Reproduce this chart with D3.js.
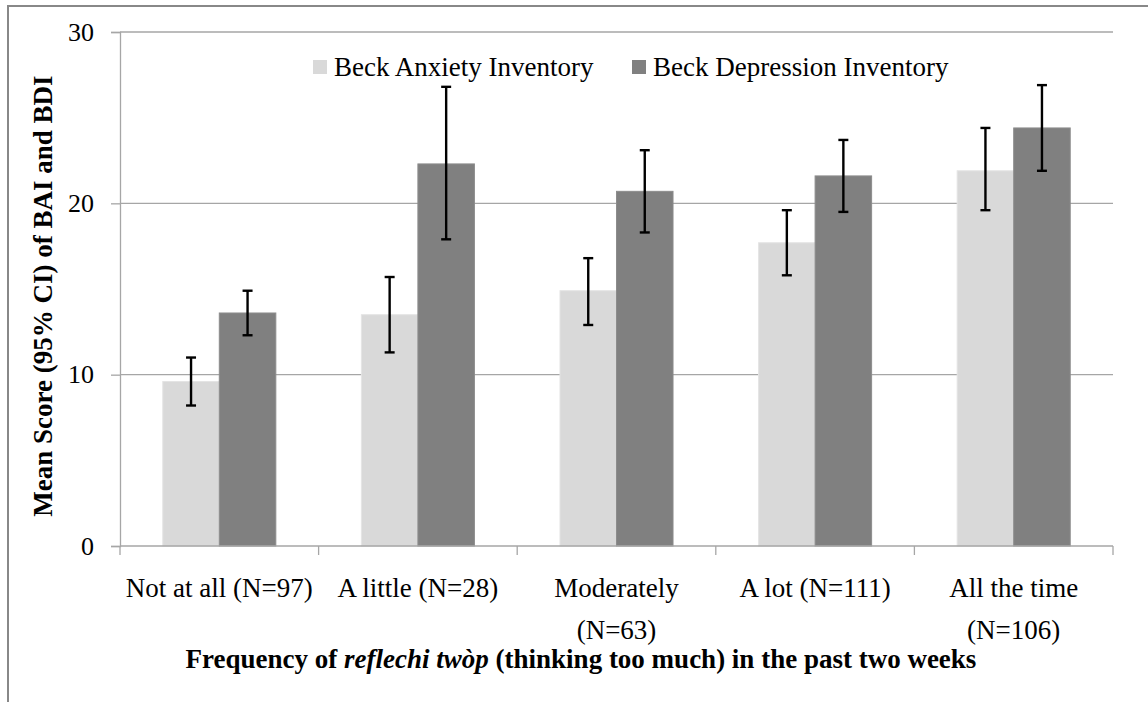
<!DOCTYPE html>
<html>
<head>
<meta charset="utf-8">
<script src="https://cdnjs.cloudflare.com/ajax/libs/d3/7.8.5/d3.min.js"></script>
<style>
  body { margin: 0; background: #fff; }
  svg { display: block; }
  text { font-family: "Liberation Serif", "Times New Roman", serif; fill: #000; }
</style>
</head>
<body>
<div id="chart"></div>
<script>
// data
var categories = ["Not at all (N=97)", "A little (N=28)", "Moderately (N=63)", "A lot (N=111)", "All the time (N=106)"];
var categoryLines = [["Not at all (N=97)"], ["A little (N=28)"], ["Moderately", "(N=63)"], ["A lot (N=111)"], ["All the time", "(N=106)"]];
var series = ["Beck Anxiety Inventory", "Beck Depression Inventory"];
var baiMean = [9.6, 13.5, 14.9, 17.7, 21.9];
var baiLow = [8.2, 11.3, 12.9, 15.8, 19.6];
var baiHigh = [11.0, 15.7, 16.8, 19.6, 24.4];
var bdiMean = [13.6, 22.3, 20.7, 21.6, 24.4];
var bdiLow = [12.3, 17.9, 18.3, 19.5, 21.9];
var bdiHigh = [14.9, 26.8, 23.1, 23.7, 26.9];
var yTicks = [0, 10, 20, 30];
var colors = ["#d9d9d9", "#808080"];

var width = 1148, height = 702;
var margin = {top: 32, right: 35, bottom: 156, left: 120};
var fontSize = 27;

var svg = d3.select("#chart").append("svg")
  .attr("width", width)
  .attr("height", height);

// outer frame, cut by the window on the right and bottom
svg.append("rect")
  .attr("x", 8).attr("y", 6)
  .attr("width", width + 20).attr("height", height + 20)
  .attr("fill", "none")
  .attr("stroke", "#888")
  .attr("stroke-width", 2);

var x0 = d3.scaleBand()
  .domain(categories)
  .range([margin.left, width - margin.right])
  .padding(0);

var x1 = d3.scaleBand()
  .domain(series)
  .range([0, x0.bandwidth()])
  .paddingInner(0)
  .paddingOuter(0.757);

var y = d3.scaleLinear()
  .domain([0, 30])
  .range([height - margin.bottom, margin.top]);

// gridlines
svg.append("g")
  .selectAll("line")
  .data(yTicks.filter(function (d) { return d > 0; }))
  .join("line")
  .attr("x1", margin.left)
  .attr("x2", width - margin.right)
  .attr("y1", function (d) { return y(d); })
  .attr("y2", function (d) { return y(d); })
  .attr("stroke", "#a6a6a6")
  .attr("stroke-width", 1.3);

// y axis
var yAxis = svg.append("g")
  .attr("transform", "translate(" + margin.left + ",0)")
  .call(d3.axisLeft(y).tickValues(yTicks).tickSize(9).tickPadding(17).tickFormat(d3.format("d")));
yAxis.select(".domain").attr("stroke", "#a6a6a6").attr("stroke-width", 1.3);
yAxis.selectAll(".tick line").attr("stroke", "#a6a6a6").attr("stroke-width", 1.3);
yAxis.selectAll(".tick text")
  .attr("font-size", 26)
  .attr("font-family", "Liberation Serif, serif")
  .attr("fill", "#000");

// bars
var rows = categories.map(function (c, i) {
  return [
    {cat: c, s: series[0], v: baiMean[i], lo: baiLow[i], hi: baiHigh[i], k: 0},
    {cat: c, s: series[1], v: bdiMean[i], lo: bdiLow[i], hi: bdiHigh[i], k: 1}
  ];
});

var groups = svg.append("g")
  .selectAll("g")
  .data(rows)
  .join("g")
  .attr("transform", function (d) { return "translate(" + x0(d[0].cat) + ",0)"; });

groups.selectAll("rect")
  .data(function (d) { return d; })
  .join("rect")
  .attr("x", function (d) { return x1(d.s); })
  .attr("width", x1.bandwidth())
  .attr("y", function (d) { return y(d.v); })
  .attr("height", function (d) { return y(0) - y(d.v); })
  .attr("fill", function (d) { return colors[d.k]; })
  .attr("stroke", function (d) { return d.k === 0 ? "#e4e4e4" : "#8c8c8c"; })
  .attr("stroke-width", 1);

// x axis (drawn over the bar bottoms)
var xAxis = svg.append("g")
  .attr("transform", "translate(0," + y(0) + ")");
xAxis.append("line")
  .attr("x1", margin.left).attr("x2", width - margin.right)
  .attr("stroke", "#a6a6a6").attr("stroke-width", 1.3);
xAxis.selectAll(".tk")
  .data(categories.concat(["end"]))
  .join("line")
  .attr("class", "tk")
  .attr("x1", function (d, i) { return margin.left + i * x0.step(); })
  .attr("x2", function (d, i) { return margin.left + i * x0.step(); })
  .attr("y1", 0).attr("y2", 9)
  .attr("stroke", "#a6a6a6").attr("stroke-width", 1.3);

// error bars
var cap = 5;
var err = groups.selectAll("g.err")
  .data(function (d) { return d; })
  .join("g")
  .attr("class", "err")
  .attr("stroke", "#000")
  .attr("stroke-width", 2.4);
err.append("line")
  .attr("x1", function (d) { return x1(d.s) + x1.bandwidth() / 2; })
  .attr("x2", function (d) { return x1(d.s) + x1.bandwidth() / 2; })
  .attr("y1", function (d) { return y(d.lo); })
  .attr("y2", function (d) { return y(d.hi); });
err.append("line")
  .attr("x1", function (d) { return x1(d.s) + x1.bandwidth() / 2 - cap; })
  .attr("x2", function (d) { return x1(d.s) + x1.bandwidth() / 2 + cap; })
  .attr("y1", function (d) { return y(d.hi); })
  .attr("y2", function (d) { return y(d.hi); });
err.append("line")
  .attr("x1", function (d) { return x1(d.s) + x1.bandwidth() / 2 - cap; })
  .attr("x2", function (d) { return x1(d.s) + x1.bandwidth() / 2 + cap; })
  .attr("y1", function (d) { return y(d.lo); })
  .attr("y2", function (d) { return y(d.lo); });

// category labels
var catText = svg.append("g")
  .selectAll("text")
  .data(categoryLines)
  .join("text")
  .attr("text-anchor", "middle")
  .attr("font-size", fontSize)
  .attr("transform", function (d, i) {
    return "translate(" + (x0(categories[i]) + x0.bandwidth() / 2) + "," + (y(0) + 51) + ")";
  });
catText.selectAll("tspan")
  .data(function (d) { return d; })
  .join("tspan")
  .attr("x", 0)
  .attr("dy", function (d, i) { return i === 0 ? 0 : 42; })
  .text(function (d) { return d; });

// x axis title
var xt = svg.append("text")
  .attr("x", 581)
  .attr("y", 668)
  .attr("text-anchor", "middle")
  .attr("font-size", fontSize)
  .attr("font-weight", "bold");
xt.append("tspan").text("Frequency of ");
xt.append("tspan").attr("font-style", "italic").text("reflechi twòp");
xt.append("tspan").text(" (thinking  too much) in the past two weeks");

// y axis title
svg.append("text")
  .attr("transform", "translate(52," + 296 + ") rotate(-90)")
  .attr("text-anchor", "middle")
  .attr("font-size", fontSize)
  .attr("font-weight", "bold")
  .text("Mean Score (95% CI) of BAI and BDI");

// legend
var legendX = [313, 632];
var legend = svg.append("g")
  .selectAll("g")
  .data(series)
  .join("g")
  .attr("transform", function (d, i) { return "translate(" + legendX[i] + ",60)"; });
legend.append("rect")
  .attr("width", 14).attr("height", 14)
  .attr("fill", function (d, i) { return colors[i]; });
legend.append("text")
  .attr("x", 21)
  .attr("y", 16)
  .attr("font-size", fontSize)
  .text(function (d) { return d; });
</script>
</body>
</html>
